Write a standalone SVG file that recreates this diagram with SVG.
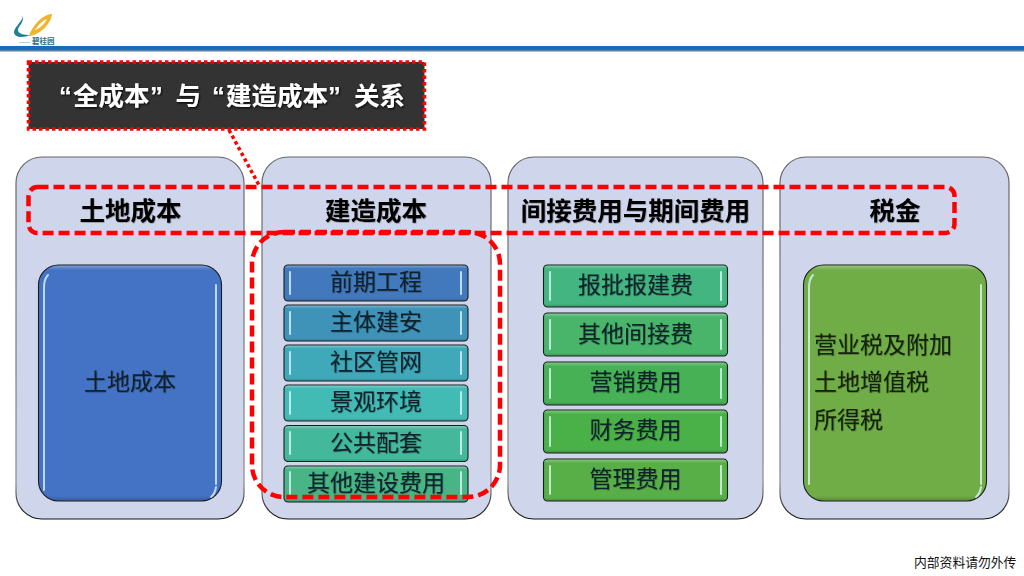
<svg xmlns="http://www.w3.org/2000/svg" width="1024" height="576" viewBox="0 0 1024 576">
<style>
text{font-family:"Liberation Sans","Noto Sans CJK SC",sans-serif}
.panel{fill:#cfd5ea;stroke:url(#edge);stroke-width:1.2}
.box{stroke:#1c1c1c;stroke-width:1.1}
.gloss{fill:url(#gl);stroke:none}
.gloss2{fill:url(#gl2);stroke:none}
.hl{fill:none;stroke:#e6fbff;stroke-width:2;stroke-linecap:round;opacity:.75}
.head{font-size:25.500px;font-weight:700;fill:#000;text-anchor:middle;filter:url(#soft)}
.lbl{font-size:23px;fill:#10202c;text-anchor:middle;filter:url(#soft)}
.lft{font-size:23px;fill:#12200c;filter:url(#soft)}
.red{fill:none;stroke:#ff0000;stroke-width:4.500;stroke-dasharray:11 5}
.dot{fill:none;stroke:#ff0000;stroke-width:3.500;stroke-dasharray:3.500 3}
</style>
<defs>
<linearGradient id="edge" x1="0" y1="0" x2="0" y2="1"><stop offset="0" stop-color="#666"/><stop offset=".9" stop-color="#888"/><stop offset="1" stop-color="#111"/></linearGradient>
<linearGradient id="gl" x1="0" y1="0" x2="0" y2="1"><stop offset="0" stop-color="#fff" stop-opacity=".3"/><stop offset=".09" stop-color="#fff" stop-opacity="0"/><stop offset=".93" stop-color="#000" stop-opacity="0"/><stop offset="1" stop-color="#000" stop-opacity=".15"/></linearGradient>
<linearGradient id="gl2" x1="0" y1="0" x2="0" y2="1"><stop offset="0" stop-color="#fff" stop-opacity=".3"/><stop offset=".02" stop-color="#fff" stop-opacity="0"/><stop offset=".98" stop-color="#000" stop-opacity="0"/><stop offset="1" stop-color="#000" stop-opacity=".18"/></linearGradient>
<filter id="soft" x="-10%" y="-20%" width="120%" height="140%"><feDropShadow dx=".6" dy=".6" stdDeviation=".5" flood-color="#000" flood-opacity=".4"/></filter>
<filter id="shadow" x="-10%" y="-20%" width="120%" height="140%"><feDropShadow dx="1" dy="1.2" stdDeviation=".8" flood-color="#000" flood-opacity=".9"/></filter>
</defs>
<rect width="1024" height="576" fill="#fff"/>

<g id="header">
<rect x="0" y="46" width="1024" height="4" fill="#1a6db3"/>
<rect x="0" y="50" width="1024" height="1.5" fill="#5f7f9c"/>
</g>
<g id="logo">
<path d="M29,36 C33,24 44,14 52,14 C51,24 40,35 29,36 Z M35,30 C41,28 45,23 47,19 C42,21 38,25 35,30 Z" fill="#efb52c" fill-rule="evenodd"/>
<path d="M23,16 C22,22 15,26 14,32 C14,38 24,38 30,35 C24,35 18,34 18,30 C18,26 24,23 23,16 Z" fill="#1f7f96"/>
<rect x="19" y="42" width="11" height="1" fill="#b9d2da"/>
<text x="32" y="44" font-size="7.500" font-weight="700" fill="#1f6f86">碧桂园</text>
</g>

<g id="panel-land"><rect class="panel" x="16" y="157" width="228" height="362" rx="26"/></g>
<g id="panel-build"><rect class="panel" x="262" y="157" width="229" height="362" rx="26"/></g>
<g id="panel-indirect"><rect class="panel" x="508" y="157" width="255" height="362" rx="26"/></g>
<g id="panel-tax"><rect class="panel" x="780" y="157" width="229" height="362" rx="26"/></g>

<g id="head-land"><text class="head" x="130.500" y="220">土地成本</text></g>
<g id="head-build"><text class="head" x="376" y="220">建造成本</text></g>
<g id="head-indirect"><text class="head" x="635.500" y="220">间接费用与期间费用</text></g>
<g id="head-tax"><text class="head" x="895" y="220">税金</text></g>

<g id="land-cost">
<rect class="box" x="38.500" y="265" width="183" height="236" rx="20" fill="#4472c4"/>
<rect class="gloss2" x="39" y="265.500" width="182" height="235" rx="20"/>
<path class="hl" d="M44,490 V288 Q44,279 48,275 M216,484 V285 M216,487 Q215,494 211,497"/>
<text class="lbl" x="130" y="390">土地成本</text>
</g>

<g id="b1"><rect class="box" x="284" y="265" width="184" height="36" rx="4" fill="#4279bd"/><rect class="gloss" x="284.500" y="265.500" width="183" height="35" rx="4"/><path class="hl" d="M290,272V294M461,272V294"/><text class="lbl" x="376" y="290">前期工程</text></g>
<g id="b2"><rect class="box" x="284" y="305" width="184" height="36" rx="4" fill="#3f93b9"/><rect class="gloss" x="284.500" y="305.500" width="183" height="35" rx="4"/><path class="hl" d="M290,312V334M461,312V334"/><text class="lbl" x="376" y="330">主体建安</text></g>
<g id="b3"><rect class="box" x="284" y="345" width="184" height="36" rx="4" fill="#40a9b9"/><rect class="gloss" x="284.500" y="345.500" width="183" height="35" rx="4"/><path class="hl" d="M290,352V374M461,352V374"/><text class="lbl" x="376" y="370">社区管网</text></g>
<g id="b4"><rect class="box" x="284" y="385" width="184" height="36" rx="4" fill="#42bbb4"/><rect class="gloss" x="284.500" y="385.500" width="183" height="35" rx="4"/><path class="hl" d="M290,392V414M461,392V414"/><text class="lbl" x="376" y="410">景观环境</text></g>
<g id="b5"><rect class="box" x="284" y="425.500" width="184" height="36" rx="4" fill="#44b89a"/><rect class="gloss" x="284.500" y="426" width="183" height="35" rx="4"/><path class="hl" d="M290,432V454M461,432V454"/><text class="lbl" x="376" y="450.500">公共配套</text></g>
<g id="b6"><rect class="box" x="284" y="466" width="184" height="36" rx="4" fill="#47b585"/><rect class="gloss" x="284.500" y="466.500" width="183" height="35" rx="4"/><path class="hl" d="M290,472V494M461,472V494"/><text class="lbl" x="376" y="491">其他建设费用</text></g>

<g id="c1"><rect class="box" x="543.500" y="265" width="184" height="42" rx="4" fill="#43b580"/><rect class="gloss" x="544" y="265.500" width="183" height="41" rx="4"/><path class="hl" d="M550,272V300M721,272V300"/><text class="lbl" x="635.500" y="293">报批报建费</text></g>
<g id="c2"><rect class="box" x="543.500" y="313" width="184" height="43" rx="4" fill="#48b56b"/><rect class="gloss" x="544" y="313.500" width="183" height="42" rx="4"/><path class="hl" d="M550,320V349M721,320V349"/><text class="lbl" x="635.500" y="342">其他间接费</text></g>
<g id="c3"><rect class="box" x="543.500" y="362" width="184" height="43" rx="4" fill="#46b255"/><rect class="gloss" x="544" y="362.500" width="183" height="42" rx="4"/><path class="hl" d="M550,369V398M721,369V398"/><text class="lbl" x="635.500" y="390">营销费用</text></g>
<g id="c4"><rect class="box" x="543.500" y="410" width="184" height="43" rx="4" fill="#4ab048"/><rect class="gloss" x="544" y="410.500" width="183" height="42" rx="4"/><path class="hl" d="M550,417V446M721,417V446"/><text class="lbl" x="635.500" y="438">财务费用</text></g>
<g id="c5"><rect class="box" x="543.500" y="459" width="184" height="42" rx="4" fill="#58ae47"/><rect class="gloss" x="544" y="459.500" width="183" height="41" rx="4"/><path class="hl" d="M550,466V494M721,466V494"/><text class="lbl" x="635.500" y="487">管理费用</text></g>

<g id="tax">
<rect class="box" x="803.500" y="265" width="183" height="236" rx="20" fill="#70ad47"/>
<rect class="gloss2" x="804" y="265.500" width="182" height="235" rx="20"/>
<path class="hl" d="M809,484V288Q809,279 813,275M981,484V285M981,487Q980,494 976,497"/>
<text class="lft" x="814" y="353">营业税及附加</text>
<text class="lft" x="814" y="390">土地增值税</text>
<text class="lft" x="814" y="428">所得税</text>
</g>

<g id="connectors">
<path class="dot" d="M229,130L260,187"/>
<rect class="red" x="28.500" y="187" width="926" height="46" rx="9"/>
<rect class="red" x="252" y="232" width="248" height="265" rx="32"/>
</g>

<g id="callout">
<rect x="28.500" y="62" width="396" height="67" fill="#333333" stroke="#ff0000" stroke-width="3.500" stroke-dasharray="3.500 3"/>
<text font-size="25.500" font-weight="700" fill="#fff" y="105" filter="url(#shadow)"><tspan x="59">“</tspan><tspan x="73">全成本</tspan><tspan x="150">”</tspan><tspan x="175.500">与</tspan><tspan x="212">“</tspan><tspan x="226">建造成本</tspan><tspan x="328">”</tspan><tspan x="354">关系</tspan></text>
</g>

<g id="footer"><text x="914" y="567" font-size="12.800" fill="#111">内部资料请勿外传</text></g>
</svg>
